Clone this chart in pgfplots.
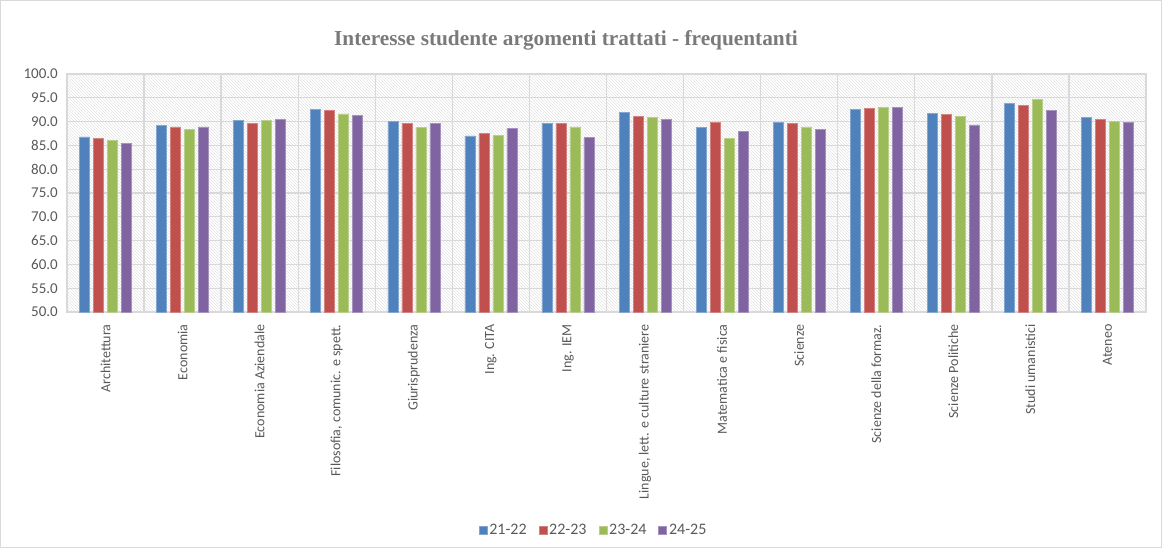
\documentclass[border=0pt]{standalone}
\usepackage{fontspec}
\setmainfont{Carlito}
\newfontfamily\titlefont{Liberation Serif}
\usepackage{pgfplots}
\pgfplotsset{compat=1.18}
\usetikzlibrary{patterns}
\definecolor{sA}{HTML}{4F81BD}
\definecolor{sB}{HTML}{C0504D}
\definecolor{sC}{HTML}{9BBB59}
\definecolor{sD}{HTML}{8064A2}
\definecolor{txt}{HTML}{595959}
\definecolor{titlec}{HTML}{7A7A7A}
\definecolor{gridc}{HTML}{D9D9D9}

\begin{document}
\begin{tikzpicture}
\useasboundingbox (0,0) rectangle (1162pt,-548pt);
\draw[gridc, line width=1pt] (0.5pt,-0.5pt) rectangle (1161.5pt,-547.5pt);
\node[font=\titlefont\bfseries\fontsize{21.3}{24}\selectfont, text=titlec] at (566pt,-40pt)
  {Interesse studente argomenti trattati - frequentanti};
\begin{axis}[
    at={(67pt,-74pt)}, anchor=north west,
    scale only axis, width=1079pt, height=238pt,
    ymin=50, ymax=100, ytick={50,55,...,100},
    xmin=-0.5, xmax=13.5,
    xtick={0,...,13},
    xticklabels={Architettura, Economia, Economia Aziendale, {Filosofia, comunic. e spett.},
      Giurisprudenza, Ing. CITA, Ing. IEM, {Lingue, lett. e culture straniere},
      Matematica e fisica, Scienze, Scienze della formaz., Scienze Politiche,
      Studi umanistici, Ateneo},
    minor xtick={-0.5,0.5,...,13.5},
    xminorgrids, ymajorgrids,
    grid style={gridc, line width=1.3pt},
    minor grid style={gridc, line width=1.3pt},
    tick style={draw=none},
    axis line style={gridc, line width=1.3pt},
    axis background/.style={pattern=north west lines, pattern color=gray!22},
    tick label style={text=txt, inner sep=0pt},
    x tick label style={rotate=90, anchor=east, font=\fontsize{14}{16}\selectfont},
    xticklabel shift=8pt,
    y tick label style={font=\fontsize{15}{17}\selectfont},
    yticklabel shift=9pt,
    /pgf/number format/assume math mode=true,
    yticklabel={\pgfmathprintnumber[fixed, fixed zerofill, precision=1]{\tick}},
    ybar=4pt, bar width=10pt,
    legend image code/.code={\fill[#1] (0pt,-4pt) rectangle (8pt,4pt);},
    legend style={at={(0.488,-0.916)}, anchor=center, draw=none, fill=none,
      legend columns=-1, font=\fontsize{16}{18}\selectfont, text=txt,
      /tikz/every even column/.append style={column sep=10pt}},
]
\addplot[fill=sA, draw=sA!70!white, line width=0.6pt] coordinates {
  (0,86.8) (1,89.2) (2,90.3) (3,92.5) (4,90.0) (5,87.0) (6,89.7)
  (7,92.0) (8,88.8) (9,89.8) (10,92.6) (11,91.8) (12,93.8) (13,90.8)};
\addplot[fill=sB, draw=sB!70!white, line width=0.6pt] coordinates {
  (0,86.5) (1,88.9) (2,89.6) (3,92.3) (4,89.6) (5,87.5) (6,89.6)
  (7,91.1) (8,89.8) (9,89.6) (10,92.8) (11,91.5) (12,93.4) (13,90.4)};
\addplot[fill=sC, draw=sC!70!white, line width=0.6pt] coordinates {
  (0,86.1) (1,88.3) (2,90.3) (3,91.6) (4,88.8) (5,87.1) (6,88.9)
  (7,90.9) (8,86.5) (9,88.9) (10,93.0) (11,91.1) (12,94.7) (13,90.1)};
\addplot[fill=sD, draw=sD!70!white, line width=0.6pt] coordinates {
  (0,85.5) (1,88.9) (2,90.5) (3,91.3) (4,89.6) (5,88.6) (6,86.6)
  (7,90.5) (8,88.0) (9,88.3) (10,93.0) (11,89.3) (12,92.3) (13,89.8)};
\legend{21-22, 22-23, 23-24, 24-25}
\end{axis}
\end{tikzpicture}
\end{document}
